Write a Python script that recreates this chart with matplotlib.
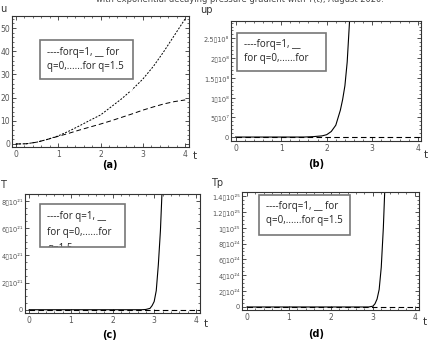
import matplotlib
matplotlib.use("Agg")
import matplotlib.pyplot as plt
from matplotlib.patches import Rectangle
from matplotlib.ticker import MultipleLocator, FixedLocator

W, H = 429, 342

# panel (a): u(t)
t_a = [0, 0.25, 0.5, 0.75, 1, 1.25, 1.5, 1.75, 2, 2.25, 2.5, 2.75, 3, 3.25, 3.5, 3.75, 4]
u_q1 = [0, 0.1, 0.8, 2, 3.5, 5.5, 7.8, 10.2, 12.5, 16, 19.5, 23.5, 28, 33.5, 40, 47, 54]
u_q0 = [0, 0.1, 0.8, 2, 3.3, 4.6, 6, 7.3, 8.6, 10, 11.5, 13, 14.6, 16, 17.3, 18.3, 19]

# panel (b): up(t)
t_b = [0, 1.5, 1.7, 1.9, 2.0, 2.1, 2.2, 2.3, 2.35, 2.4, 2.45, 2.5, 2.55]
up_q0 = [0, 0, 1e6, 3e6, 6e6, 1.4e7, 3e7, 6.8e7, 9.5e7, 1.3e8, 1.9e8, 2.9e8, 4e8]

# panel (c): T(t)
t_c = [0, 2.7, 2.8, 2.9, 2.95, 3.0, 3.05, 3.1, 3.15, 3.2, 3.25]
T_q0 = [0, 0, 0.02e21, 0.1e21, 0.3e21, 0.6e21, 1.4e21, 3.3e21, 5.8e21, 9.5e21, 15e21]

# panel (d): Tp(t)
t_d = [0, 2.9, 3.0, 3.05, 3.1, 3.15, 3.2, 3.25, 3.3, 3.35]
Tp_q0 = [0, 0, 0.1e24, 0.4e24, 1.0e24, 2.2e24, 5e24, 10e24, 17e24, 28e24]

yt_b = [0, 5e7, 1e8, 1.5e8, 2e8, 2.5e8]
yl_b = ["0", "5▯10⁷", "1▯10⁸", "1.5▯10⁸", "2▯10⁸", "2.5▯10⁸"]
yt_c = [0, 2e21, 4e21, 6e21, 8e21]
yl_c = ["0", "2▯10²¹", "4▯10²¹", "6▯10²¹", "8▯10²¹"]
yt_d = [0, 2e24, 4e24, 6e24, 8e24, 1e25, 1.2e25, 1.4e25]
yl_d = ["0", "2▯10²⁴", "4▯10²⁴", "6▯10²⁴", "8▯10²⁴",
        "1▯10²⁵", "1.2▯10²⁵", "1.4▯10²⁵"]

fig = plt.figure(figsize=(W / 100, H / 100), dpi=100)


def px_axes(l, t, r, b):
    return fig.add_axes([l / W, 1 - b / H, (r - l) / W, (b - t) / H])


def fx(x):
    return x / W


def fy(y):
    return 1 - y / H


def style(ax, xlim, ylim, ymaj, ymin, yt=None, yl=None):
    ax.set_xlim(*xlim)
    ax.set_ylim(*ylim)
    ax.xaxis.set_major_locator(MultipleLocator(1))
    ax.xaxis.set_minor_locator(MultipleLocator(0.2))
    if yt is not None:
        ax.yaxis.set_major_locator(FixedLocator(yt))
        ax.set_yticklabels(yl)
    else:
        ax.yaxis.set_major_locator(MultipleLocator(ymaj))
    ax.yaxis.set_minor_locator(MultipleLocator(ymin))
    ax.tick_params(which="both", direction="in", top=True, right=True,
                   labelsize=5.5, labelcolor="#555555", color="#333333", pad=2)
    ax.tick_params(axis="y", labelsize=4.8, pad=1.5)
    ax.tick_params(which="major", length=3, width=0.6)
    ax.tick_params(which="minor", length=1.5, width=0.5)
    for s in ax.spines.values():
        s.set_color("#333333")
        s.set_linewidth(0.8)


def legend_box(l, t, r, b, lines, x0, y0, dy):
    back = Rectangle((fx(l), fy(b)), fx(r) - fx(l), fy(t) - fy(b),
                     transform=fig.transFigure, facecolor="white",
                     edgecolor="none", zorder=5)
    fig.patches.append(back)
    for i, s in enumerate(lines):
        fig.text(fx(x0), fy(y0 + i * dy), s, fontsize=7, family="Open Sans",
                 va="center", ha="left", color="#222222", zorder=6)
    # white strip hides whatever text runs past the box bottom
    cover = Rectangle((fx(l + 1), fy(b + 12)), fx(r - l - 2), 12 / H,
                      transform=fig.transFigure, facecolor="white",
                      edgecolor="none", zorder=7)
    fig.patches.append(cover)
    frame = Rectangle((fx(l), fy(b)), fx(r) - fx(l), fy(t) - fy(b),
                      transform=fig.transFigure, fill=False,
                      edgecolor="#777777", linewidth=1.2, zorder=8)
    fig.patches.append(frame)


# (a)
ax = px_axes(12, 16, 189, 147)
ax.plot(t_a, u_q1, color="black", lw=0.7, ls=(0, (2, 1.5)))
ax.plot(t_a, u_q0, color="black", lw=0.7, ls=(0, (5, 3)))
style(ax, (-0.09, 4.09), (-1.3, 55.2), 10, 2)
ax.tick_params(axis="y", labelsize=5.5)
fig.text(fx(0), fy(9), "u", fontsize=7, color="#333333", va="center")
fig.text(fx(193), fy(156), "t", fontsize=7.5, color="#333333", va="center")
fig.text(fx(110), fy(165), "(a)", fontsize=7, weight="bold", ha="center", va="center")
legend_box(40, 40, 133, 79, ["----forq=1, __ for", "q=0,......for q=1.5"], 47, 52, 15)

# (b)
ax = px_axes(231, 21, 421, 141)
ax.plot(t_b, up_q0, color="black", lw=0.8)
ax.plot([0, 4.1], [0, 0], color="black", lw=0.8, ls=(0, (5, 3)))
style(ax, (-0.1, 4.07), (-1e7, 2.94e8), None, 1e7, yt_b, yl_b)
fig.text(fx(200), fy(10), "up", fontsize=7, color="#333333", va="center")
fig.text(fx(424), fy(155), "t", fontsize=7.5, color="#333333", va="center")
fig.text(fx(316), fy(164), "(b)", fontsize=7, weight="bold", ha="center", va="center")
legend_box(237, 33, 326, 71, ["----forq=1, __", "for q=0,......for"], 244, 45, 14)

# (c)
ax = px_axes(25, 194, 200, 313)
ax.plot(t_c, T_q0, color="black", lw=0.8)
ax.plot([0, 4.1], [0, 0], color="black", lw=0.8, ls=(0, (5, 3)))
style(ax, (-0.1, 4.1), (-0.24e21, 8.5e21), None, 0.5e21, yt_c, yl_c)
fig.text(fx(0), fy(185), "T", fontsize=7, color="#333333", va="center")
fig.text(fx(204), fy(324), "t", fontsize=7.5, color="#333333", va="center")
fig.text(fx(110), fy(335), "(c)", fontsize=7, weight="bold", ha="center", va="center")
legend_box(40, 204, 125, 247, ["----for q=1, __", "for q=0,......for", "q=1.5"], 47, 216, 16.5)

# (d)
ax = px_axes(242, 192, 419, 310)
ax.plot(t_d, Tp_q0, color="black", lw=0.8)
ax.plot([0, 4.1], [0, 0], color="black", lw=0.8, ls=(0, (5, 3)))
style(ax, (-0.12, 4.1), (-0.38e24, 1.45e25), None, 0.5e24, yt_d, yl_d)
fig.text(fx(211), fy(183), "Tp", fontsize=7, color="#333333", va="center")
fig.text(fx(423), fy(322), "t", fontsize=7.5, color="#333333", va="center")
fig.text(fx(316), fy(334), "(d)", fontsize=7, weight="bold", ha="center", va="center")
legend_box(259, 195, 350, 235, ["----forq=1, __ for", "q=0,......for q=1.5"], 266, 207, 14)

# clipped header line from the page
fig.text(fx(240), fy(-1), "with exponential decaying pressure gradient with Y(t), August 2020.",
         fontsize=6, color="#444444", ha="center", va="center")

fig.savefig("out.png", dpi=100)
